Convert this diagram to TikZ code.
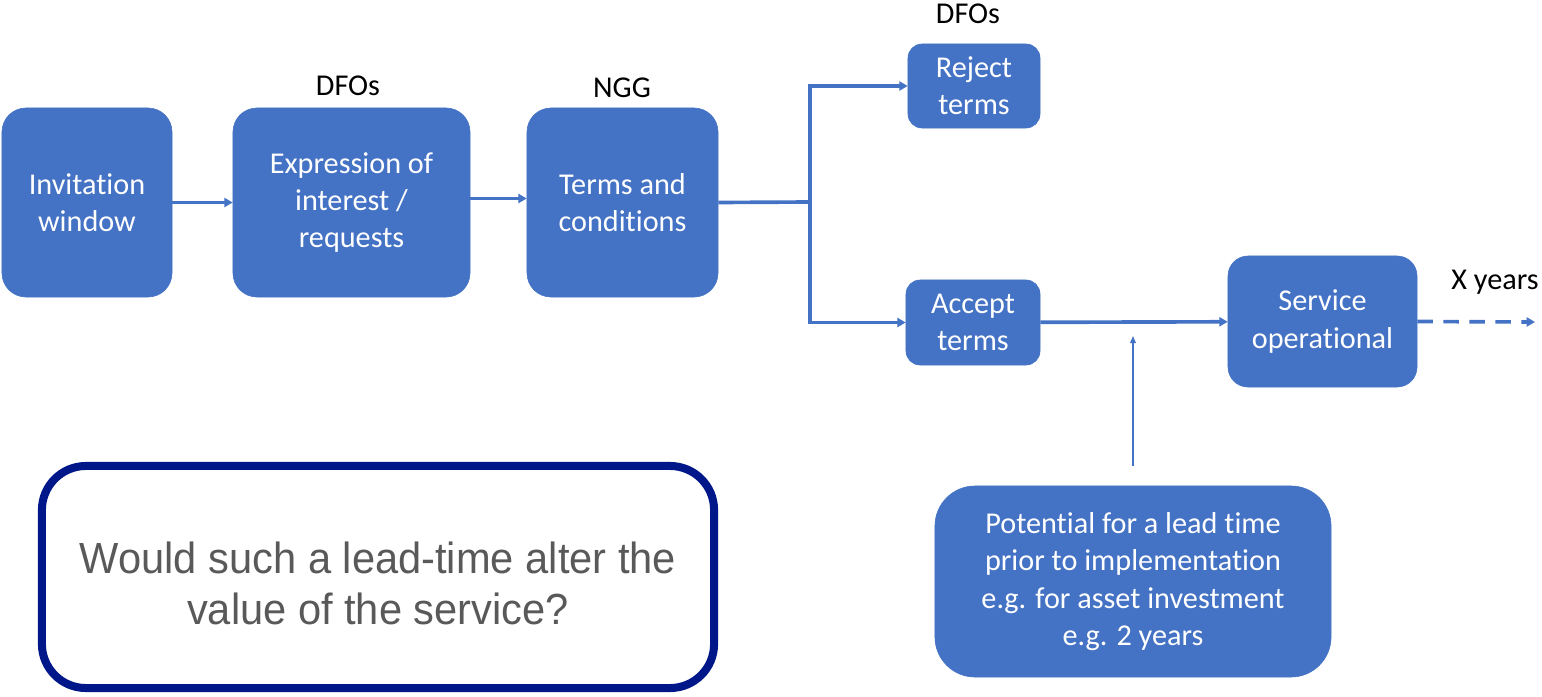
\documentclass[tikz,border=0pt]{standalone}
\usepackage{fontspec}
\setmainfont{Carlito}[Ligatures=CommonOff]
\newfontfamily\arialfont{Liberation Sans}[FakeStretch=0.955]
\usetikzlibrary{arrows.meta}
\definecolor{boxblue}{HTML}{4472C4}
\definecolor{qnavy}{HTML}{00178A}
\definecolor{qgrey}{HTML}{595959}
\begin{document}
\begin{tikzpicture}[x=0.025cm,y=-0.025cm,
    stage/.style={draw=boxblue,fill=boxblue,text=white,align=center,rounded corners=0.6cm,
      font=\fontsize{21.5}{26.5}\selectfont,inner sep=0pt},
    who/.style={font=\fontsize{21.5}{26.5}\selectfont},
    flow/.style={draw=boxblue,line width=2.6pt,-{Triangle[length=6pt,width=6.5pt]}}]
    \useasboundingbox (0,0) rectangle (1542,696);
    % top row
    \node[stage,minimum width=4.25cm,minimum height=4.725cm] (inv) at (87,202.5) {Invitation\\window};
    \node[stage,minimum width=5.925cm,minimum height=4.725cm] (eoi) at (351.5,202.5) {Expression of\\interest /\\requests};
    \node[stage,minimum width=4.775cm,minimum height=4.725cm] (tac) at (622.5,202.5) {Terms and\\conditions};
    \node[who] (eoiwho) at (348,86) {DFOs};
    \node[who] (tacwho) at (622,88) {NGG};
    % right part
    \node[stage,rounded corners=0.35cm,minimum width=3.3cm,minimum height=2.1cm] (rej) at (974,86) {Reject\\terms};
    \node[who] (rejwho) at (968,14) {DFOs};
    \node[stage,rounded corners=0.35cm,minimum width=3.35cm,minimum height=2.125cm] (acc) at (973,322.5) {Accept\\terms};
    \node[stage,rounded corners=0.5cm,minimum width=4.725cm,minimum height=3.275cm] (svc) at (1322.5,321.5) {Service\\operational};
    \node[who] (yrs) at (1495,282) {X years};
    \node[stage,rounded corners=1cm,minimum width=9.9cm,minimum height=4.775cm] (lead) at (1133,581.5)
      {Potential for a lead time\\prior to implementation\\e.g. for asset investment\\e.g. 2 years};
    % question box
    \node[draw=qnavy,line width=5.7pt,rounded corners=1.1cm,minimum width=16.8cm,minimum height=5.55cm,
      align=center,text=qgrey,font=\arialfont\fontsize{31}{36.3}\selectfont] (quest) at (378,577)
      {\rule{0pt}{31pt}Would such a lead-time alter the\\value of the service?};
    \coordinate (split) at (810,202);
    \coordinate (leadtip) at (1133,336);
    \coordinate (leadfoot) at (1133,466);
    \coordinate (later) at (1535,322);
    % connectors
    \draw[flow] (inv) -- (eoi);
    \draw[flow] ([yshift=0.1cm]eoi.east) -- ([yshift=0.1cm]tac.west);
    \draw[draw=boxblue,line width=2.6pt] (tac.east) -- (split);
    \draw[flow] (split) |- (rej.west);
    \draw[flow] (split) |- (acc.west);
    \draw[flow] (acc) -- (svc);
    \draw[flow,dash pattern=on 11pt off 7.5pt] (svc.east) -- (later);
    \draw[draw=boxblue,line width=1pt,-{Triangle[length=5pt,width=4pt]}] (leadfoot) -- (leadtip);
  \end{tikzpicture}
\end{document}
